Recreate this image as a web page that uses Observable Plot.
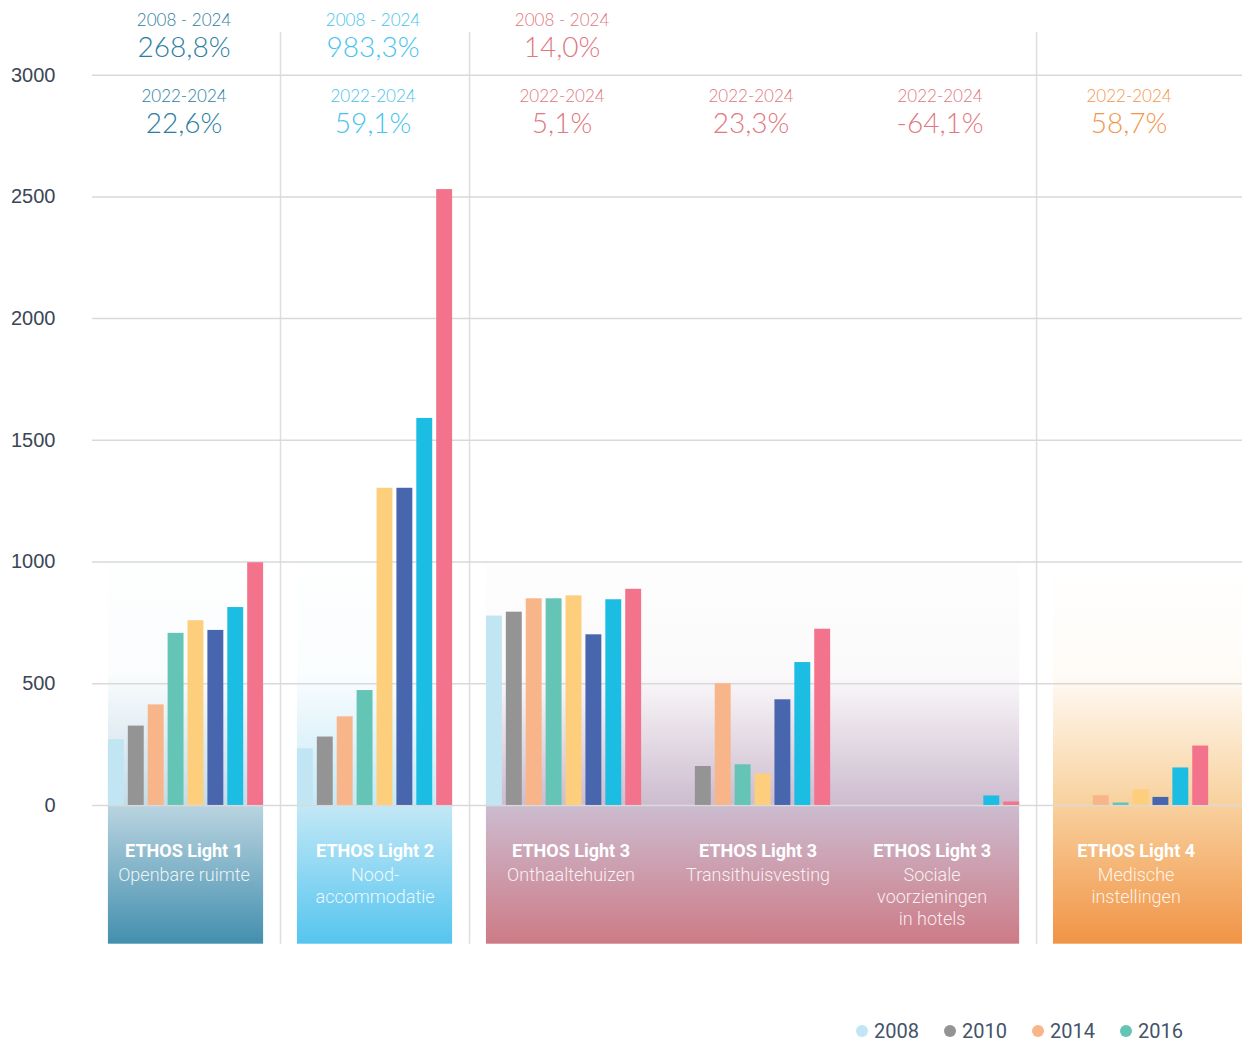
<!DOCTYPE html>
<html>
<head>
<meta charset="utf-8">
<script src="https://cdn.jsdelivr.net/npm/d3@7"></script>
<script src="https://cdn.jsdelivr.net/npm/@observablehq/plot@0.6"></script>
<style>
html, body { margin: 0; padding: 0; background: #fff; }
body { width: 1242px; height: 1041px; overflow: hidden; }
#legend { display: flex; margin-top: 61px; padding-left: 856px; font: 20px Roboto, "Liberation Sans", Arial, sans-serif; color: #44546a; line-height: 20px; }
#legend .item { display: flex; align-items: center; width: 88px; }
#legend .dot { width: 12px; height: 12px; border-radius: 50%; margin-right: 6px; }
</style>
</head>
<body>
<div id="chart"></div>
<div id="legend"></div>
<script>
// ---- data ----
const years = ["2008", "2010", "2014", "2016", "2018", "2020", "2022", "2024"];
const groupTitles = ["ETHOS Light 1", "ETHOS Light 2", "ETHOS Light 3", "ETHOS Light 3", "ETHOS Light 3", "ETHOS Light 4"];
const groupSubtitles = ["Openbare ruimte", "Nood-\naccommodatie", "Onthaaltehuizen", "Transithuisvesting", "Sociale\nvoorzieningen\nin hotels", "Medische\ninstellingen"];
const openbareRuimte     = [270, 326, 413, 707, 759, 719, 813, 997];
const noodaccommodatie   = [233, 281, 364, 472, 1303, 1303, 1590, 2530];
const onthaaltehuizen    = [778, 794, 849, 849, 861, 701, 845, 888];
const transithuisvesting = [null, 160, 500, 167, 129, 434, 587, 724];
const hotels             = [null, null, null, null, null, null, 39, 14];
const medisch            = [null, null, 40, 10, 64, 33, 154, 244];
const longPeriod  = ["2008 - 2024", "2008 - 2024", "2008 - 2024", null, null, null];
const longChange  = ["268,8%", "983,3%", "14,0%", null, null, null];
const shortPeriod = ["2022-2024", "2022-2024", "2022-2024", "2022-2024", "2022-2024", "2022-2024"];
const shortChange = ["22,6%", "59,1%", "5,1%", "23,3%", "-64,1%", "58,7%"];
const yTicks = [0, 500, 1000, 1500, 2000, 2500, 3000];
const legendYears = ["2008", "2010", "2014", "2016"];

// ---- styles ----
const yearColors = ["#c2e5f3", "#949494", "#f9b58a", "#64c4b6", "#fdcf7c", "#4866ae", "#1bbde3", "#f2738b"];
const headerColors = ["#2b7ea0", "#46c3ee", "#e07880", "#e07880", "#e07880", "#f2964c"];
const labelShift = [-2, 0, 7, 5, -10, 5];
const sections = [[0], [1], [2, 3, 4], [5]];
const sectionUp = ["#c4dce7", "#c5e9f6", "#cdbccf", "#f8d19c"];
const sectionFaint = [0.02, 0.02, 0.02, 0];
const sectionDownTop = ["#bad4e0", "#c3e8f6", "#ccbcd0", "#f8d09d"];
const sectionDownBottom = ["#438fae", "#55c5ef", "#cd7b86", "#f19446"];

// ---- layout (in bar-slot units) ----
const groupStep = 9.5;
const barWidth = 0.8;
const xDomain = [-0.8, 57];
const groupCenter = gi => gi * groupStep + (years.length - 1 + barWidth) / 2;

const series = [openbareRuimte, noodaccommodatie, onthaaltehuizen, transithuisvesting, hotels, medisch];
const bars = series.flatMap((vals, gi) => vals.map((v, yi) => ({
  group: gi, year: years[yi], value: v,
  x1: gi * groupStep + yi, x2: gi * groupStep + yi + barWidth
}))).filter(d => d.value != null);

const boxes = sections.map((gs, si) => ({
  si,
  x1: gs[0] * groupStep,
  x2: si === sections.length - 1 ? xDomain[1] : gs[gs.length - 1] * groupStep + (years.length - 1) + barWidth
}));
const separators = boxes.slice(0, -1).map((b, i) => (b.x2 + boxes[i + 1].x1) / 2);
const groups = groupTitles.map((t, gi) => gi);

const defs = () => {
  const d = d3.create("svg:defs");
  boxes.forEach((b, si) => {
    const up = d.append("linearGradient").attr("id", `up${si}`).attr("x1", 0).attr("y1", 0).attr("x2", 0).attr("y2", 1);
    up.append("stop").attr("offset", 0).attr("stop-color", sectionUp[si]).attr("stop-opacity", sectionFaint[si]);
    up.append("stop").attr("offset", 0.46).attr("stop-color", sectionUp[si]).attr("stop-opacity", 0.08);
    up.append("stop").attr("offset", 1).attr("stop-color", sectionUp[si]).attr("stop-opacity", 1);
    const dn = d.append("linearGradient").attr("id", `dn${si}`).attr("x1", 0).attr("y1", 0).attr("x2", 0).attr("y2", 1);
    dn.append("stop").attr("offset", 0).attr("stop-color", sectionDownTop[si]);
    dn.append("stop").attr("offset", 1).attr("stop-color", sectionDownBottom[si]);
  });
  return d.node();
};

const headerFont = "Lato, 'Open Sans', sans-serif";
const headerMarks = groups.flatMap(gi => {
  const ms = [];
  const base = {x: groupCenter(gi), y: 3000, dx: -2, fill: headerColors[gi], fontFamily: headerFont, fontWeight: 300};
  if (longPeriod[gi]) {
    ms.push(Plot.text([longPeriod[gi]], {...base, text: d => d, dy: -55, fontSize: 17}));
    ms.push(Plot.text([longChange[gi]], {...base, text: d => d, dy: -27, fontSize: 28}));
  }
  ms.push(Plot.text([shortPeriod[gi]], {...base, text: d => d, dy: 21, fontSize: 17}));
  ms.push(Plot.text([shortChange[gi]], {...base, text: d => d, dy: 49, fontSize: 28}));
  return ms;
});

const chart = Plot.plot({
  width: 1242,
  height: 960,
  marginLeft: 92,
  marginRight: 0,
  marginTop: 26,
  marginBottom: 9,
  style: {fontFamily: "'Liberation Sans', Arial, sans-serif", fontSize: "20px", color: "#3b4656", background: "white"},
  x: {domain: xDomain, axis: null},
  y: {domain: [-600, 3200], ticks: yTicks, tickSize: 0, tickPadding: 37, tickFormat: d => String(d), label: null},
  color: {domain: years, range: yearColors},
  marks: [
    defs,
    ...boxes.map(b => Plot.rect([b], {x1: "x1", x2: "x2", y1: 0, y2: 1000, fill: `url(#up${b.si})`})),
    ...boxes.map(b => Plot.rect([b], {x1: "x1", x2: "x2", y1: -570, y2: 0, fill: `url(#dn${b.si})`})),
    Plot.ruleX(separators, {x: d => d, y1: -570, y2: 3175, stroke: "#dedede", strokeWidth: 1.5}),
    Plot.ruleY(yTicks, {y: d => d, stroke: "#d9d9d9", strokeWidth: 1.5}),
    Plot.rect(bars, {x1: "x1", x2: "x2", y1: 0, y2: "value", fill: "year"}),
    ...headerMarks,
    ...groups.map(gi => Plot.text([gi], {x: groupCenter(gi), y: 0, dx: labelShift[gi], dy: 39, lineAnchor: "top", text: groupTitles[gi] ? () => groupTitles[gi] : null, fill: "white", fontFamily: "Roboto, sans-serif", fontWeight: 700, fontSize: 18})),
    ...groups.map(gi => Plot.text([gi], {x: groupCenter(gi), y: 0, dx: labelShift[gi], dy: 60, lineAnchor: "top", lineHeight: 1.22, text: () => groupSubtitles[gi], fill: "white", fillOpacity: 0.88, fontFamily: "Roboto, sans-serif", fontWeight: 300, fontSize: 18}))
  ]
});
document.getElementById("chart").appendChild(chart);

const colorScale = chart.scale("color");
const legend = d3.select("#legend");
legendYears.forEach(y => {
  const item = legend.append("div").attr("class", "item");
  item.append("div").attr("class", "dot").style("background", colorScale.apply(y));
  item.append("span").text(y);
});
</script>
</body>
</html>
